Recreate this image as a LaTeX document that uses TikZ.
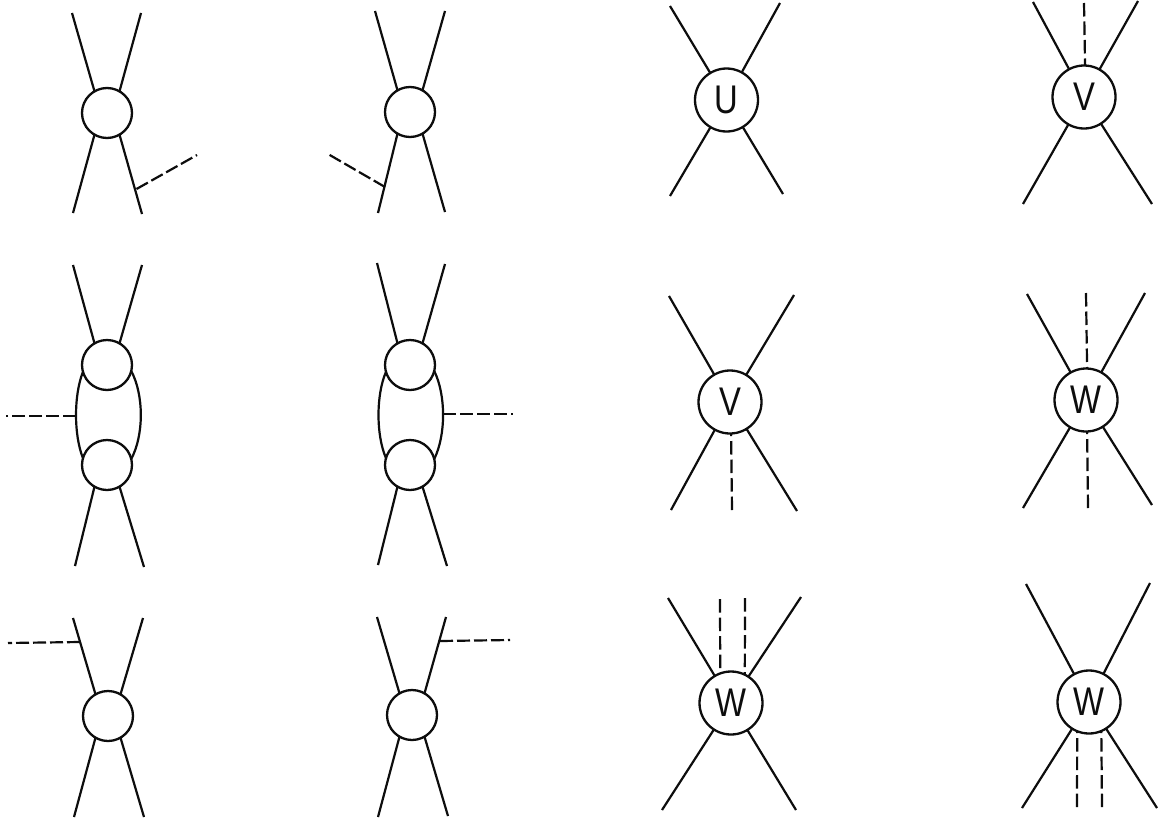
\documentclass[tikz,border=0pt]{standalone}
\usepackage{fontspec}
\setmainfont[FakeStretch=0.82]{Liberation Sans}
\definecolor{ink}{gray}{0.05}
\tikzset{
  smallvertex/.style={draw=ink,circle,line width=2.3pt,minimum size=50pt,inner sep=0pt,outer sep=0pt},
  bigvertex/.style={draw=ink,circle,line width=2.3pt,minimum size=63pt,inner sep=0pt,outer sep=0pt,text=ink,font=\fontsize{40}{40}\selectfont},
  fermion/.style={draw=ink,line width=2.2pt},
  photon/.style={draw=ink,line width=2.2pt,dash pattern=on 13pt off 4pt},
  vphoton/.style={draw=ink,line width=2.2pt,dash pattern=on 13.5pt off 5pt},
}
\begin{document}
\begin{tikzpicture}[x=1pt,y=-1pt]
\path[use as bounding box,fill=white] (0,0) rectangle (1158,819);
% ---------- left column 1, row 1
\node[smallvertex] (a) at (107,113) {};
\coordinate (a1) at (72,13); \coordinate (a2) at (141,13);
\coordinate (a3) at (73,213); \coordinate (a4) at (142,214);
\coordinate (aj) at (136.5,189); \coordinate (ae) at (197,155);
\draw[fermion] (a.120) -- (a1);
\draw[fermion] (a.60) -- (a2);
\draw[fermion] (a.240) -- (a3);
\draw[fermion] (a.300) -- (a4);
\draw[photon] (aj) -- (ae);
% ---------- column 2, row 1
\node[smallvertex] (b) at (410,112) {};
\coordinate (b1) at (375,11); \coordinate (b2) at (445,11);
\coordinate (b3) at (378,213); \coordinate (b4) at (445,212);
\coordinate (bj) at (385,187); \coordinate (be) at (328,154);
\draw[fermion] (b.120) -- (b1);
\draw[fermion] (b.60) -- (b2);
\draw[fermion] (b.240) -- (b3);
\draw[fermion] (b.300) -- (b4);
\draw[photon] (bj) -- (be);
% ---------- column 1, row 2
\node[smallvertex] (c) at (107,365) {};
\node[smallvertex] (d) at (107,465) {};
\coordinate (c1) at (73,265); \coordinate (c2) at (142,265);
\coordinate (c3) at (75,566); \coordinate (c4) at (144,567);
\coordinate (cj) at (76,416); \coordinate (ce) at (6,416);
\draw[fermion] (c.120) -- (c1);
\draw[fermion] (c.60) -- (c2);
\draw[fermion] (d.240) -- (c3);
\draw[fermion] (d.300) -- (c4);
\draw[fermion] (c.196) .. controls (73.7,395) and (73.7,435) .. (d.164);
\draw[fermion] (c.346) .. controls (144,395) and (144,435) .. (d.14);
\draw[photon] (cj) -- (ce);
% ---------- column 2, row 2
\node[smallvertex] (e) at (410,365) {};
\node[smallvertex] (f) at (410,465) {};
\coordinate (e1) at (377,263); \coordinate (e2) at (445,264);
\coordinate (e3) at (378,565); \coordinate (e4) at (447,566);
\coordinate (ej) at (443,414); \coordinate (ee) at (513,414);
\draw[fermion] (e.120) -- (e1);
\draw[fermion] (e.60) -- (e2);
\draw[fermion] (f.240) -- (e3);
\draw[fermion] (f.300) -- (e4);
\draw[fermion] (e.196) .. controls (376,395) and (376,435) .. (f.164);
\draw[fermion] (e.346) .. controls (446,395) and (446,435) .. (f.14);
\draw[photon] (ej) -- (ee);
% ---------- column 1, row 3
\node[smallvertex] (g) at (108,716) {};
\coordinate (g1) at (73,618); \coordinate (g2) at (143,618);
\coordinate (g3) at (74,817); \coordinate (g4) at (144,817);
\coordinate (gj) at (80,642); \coordinate (ge) at (8,643);
\draw[fermion] (g.120) -- (g1);
\draw[fermion] (g.60) -- (g2);
\draw[fermion] (g.240) -- (g3);
\draw[fermion] (g.300) -- (g4);
\draw[photon] (gj) -- (ge);
% ---------- column 2, row 3
\node[smallvertex] (h) at (412,715) {};
\coordinate (h1) at (377,617); \coordinate (h2) at (446,617);
\coordinate (h3) at (378,817); \coordinate (h4) at (448,816);
\coordinate (hj) at (440,641); \coordinate (he) at (510,640);
\draw[fermion] (h.120) -- (h1);
\draw[fermion] (h.60) -- (h2);
\draw[fermion] (h.240) -- (h3);
\draw[fermion] (h.300) -- (h4);
\draw[photon] (hj) -- (he);
% ---------- U
\node[bigvertex] (u) at (726.5,100) {U};
\coordinate (u1) at (670,6); \coordinate (u2) at (780,3);
\coordinate (u3) at (670,196); \coordinate (u4) at (783,194);
\foreach \p in {u1,u2,u3,u4} \draw[fermion] (u) -- (\p);
% ---------- V top right
\node[bigvertex] (v) at (1084,97) {V};
\coordinate (v1) at (1033,2); \coordinate (v2) at (1138,1);
\coordinate (v3) at (1023,204); \coordinate (v4) at (1152,204);
\coordinate (vt) at (1084,3);
\foreach \p in {v1,v2,v3,v4} \draw[fermion] (v) -- (\p);
\draw[vphoton] (vt) -- (v.88);
% ---------- V middle
\node[bigvertex] (m) at (730,402) {V};
\coordinate (m1) at (669,296); \coordinate (m2) at (794,295);
\coordinate (m3) at (671,510); \coordinate (m4) at (797,511);
\coordinate (mb) at (732,510);
\foreach \p in {m1,m2,m3,m4} \draw[fermion] (m) -- (\p);
\draw[vphoton] (mb) -- (m.272);
% ---------- W middle
\node[bigvertex] (w) at (1086,400) {W};
\coordinate (w1) at (1027,294); \coordinate (w2) at (1145,293);
\coordinate (w3) at (1023,508); \coordinate (w4) at (1152,505);
\coordinate (wt) at (1086,293); \coordinate (wb) at (1088,508);
\foreach \p in {w1,w2,w3,w4} \draw[fermion] (w) -- (\p);
\draw[vphoton] (wt) -- (w.88);
\draw[vphoton] (wb) -- (w.272);
% ---------- W bottom left
\node[bigvertex] (x) at (731,703) {W};
\coordinate (x1) at (668,598); \coordinate (x2) at (801,597);
\coordinate (x3) at (662,810); \coordinate (x4) at (796,810);
\coordinate (xa) at (720,599); \coordinate (xb) at (745,598);
\foreach \p in {x1,x2,x3,x4} \draw[fermion] (x) -- (\p);
\draw[vphoton] (xa) -- (x.110);
\draw[vphoton] (xb) -- (x.64);
% ---------- W bottom right
\node[bigvertex] (y) at (1089,702) {W};
\coordinate (y1) at (1026,584); \coordinate (y2) at (1150,583);
\coordinate (y3) at (1022,808); \coordinate (y4) at (1157,808);
\coordinate (ya) at (1077,807); \coordinate (yb) at (1102,807);
\foreach \p in {y1,y2,y3,y4} \draw[fermion] (y) -- (\p);
\draw[vphoton] (ya) -- (y.248);
\draw[vphoton] (yb) -- (y.293);
\end{tikzpicture}
\end{document}
